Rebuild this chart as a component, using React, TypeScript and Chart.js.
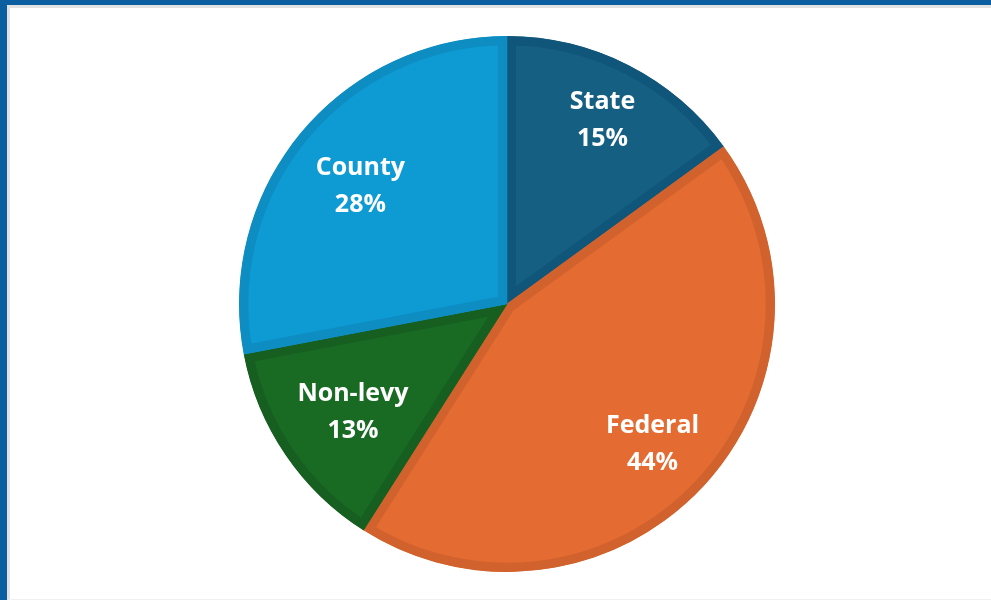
import React, { useEffect, useRef } from "react";
import { Chart, registerables } from "chart.js";

Chart.register(...registerables);

const categories = ["State", "Federal", "Non-levy", "County"];
const shares = [15, 44, 13, 28];
const fillColors = ["#155F82", "#E46C32", "#196B24", "#0E9BD4"];
const edgeColors = ["#10557A", "#D2622D", "#165F20", "#0D8DC2"];
const labelRadiusFractions = [0.785, 0.745, 0.695, 0.71];

const labelPlugin = {
  id: "sliceLabels",
  afterDatasetsDraw(chart: any) {
    const ctx = chart.ctx;
    const meta = chart.getDatasetMeta(0);
    const data = chart.data.datasets[0].data as number[];
    const total = data.reduce((a: number, b: number) => a + b, 0);
    ctx.save();
    ctx.fillStyle = "#FFFFFF";
    ctx.textAlign = "center";
    ctx.textBaseline = "middle";
    ctx.font = "bold 25px 'Open Sans', 'DejaVu Sans', sans-serif";
    meta.data.forEach((arc: any, i: number) => {
      const { x, y, startAngle, endAngle, outerRadius } = arc.getProps(
        ["x", "y", "startAngle", "endAngle", "outerRadius"],
        true
      );
      const mid = (startAngle + endAngle) / 2;
      const r = outerRadius * labelRadiusFractions[i];
      const cx = x + Math.cos(mid) * r;
      const cy = y + Math.sin(mid) * r + 4;
      const pct = Math.round((data[i] / total) * 100) + "%";
      ctx.fillText(chart.data.labels[i], cx, cy - 18.5);
      ctx.fillText(pct, cx, cy + 18.5);
    });
    ctx.restore();
  },
};

export default function App() {
  const ref = useRef<HTMLCanvasElement>(null);
  useEffect(() => {
    if (!ref.current) return;
    const chart = new Chart(ref.current, {
      type: "pie",
      data: {
        labels: categories,
        datasets: [
          {
            data: shares,
            backgroundColor: fillColors,
            borderColor: edgeColors,
            borderWidth: 9,
            borderAlign: "inner",
            radius: 268,
          } as any,
        ],
      },
      options: {
        responsive: false,
        animation: false,
        maintainAspectRatio: false,
        layout: { padding: 0 },
        plugins: {
          legend: { display: false },
          tooltip: { enabled: false },
        },
      },
      plugins: [labelPlugin],
    });
    return () => chart.destroy();
  }, []);

  return (
    <div
      style={{
        position: "fixed",
        left: 0,
        top: 0,
        width: 991,
        height: 600,
        overflow: "hidden",
        background: "#0B5EA0",
      }}
    >
      <div
        style={{
          position: "absolute",
          left: 7,
          top: 5,
          right: 0,
          bottom: 0,
          background: "#FFFFFF",
          borderTop: "3px solid #E2E2E2",
          borderLeft: "3px solid #E2E2E2",
          borderBottom: "1px solid #F0F0F0",
          boxSizing: "border-box",
        }}
      />
      <canvas
        ref={ref}
        width={560}
        height={560}
        style={{ position: "absolute", left: 227, top: 24, width: 560, height: 560 }}
      />
    </div>
  );
}
